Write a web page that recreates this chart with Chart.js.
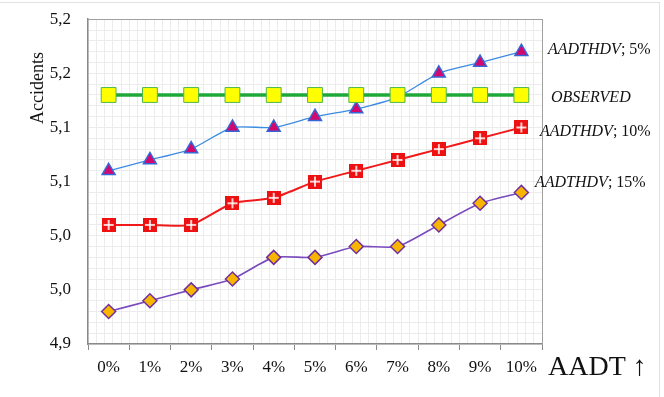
<!DOCTYPE html>
<html>
<head>
<meta charset="utf-8">
<script src="https://cdn.jsdelivr.net/npm/chart.js@4"></script>
<style>
  body { margin: 0; background: #fff; }
  #wrap { position: relative; width: 664px; height: 397px; }
  #frame { position: absolute; left: -1px; top: 2px; width: 660px; height: 400px;
           border-top: 1px solid #e2e2e2; border-right: 1px solid #e2e2e2; pointer-events: none; }
</style>
</head>
<body>
<div id="wrap">
  <canvas id="chart" width="664" height="397"></canvas>
  <div id="frame"></div>
</div>
<script>
// categories and values
const categories = ['0%', '1%', '2%', '3%', '4%', '5%', '6%', '7%', '8%', '9%', '10%'];
const hdv5 = [5.06, 5.07, 5.08, 5.10, 5.10, 5.11, 5.117, 5.128, 5.15, 5.16, 5.17];
const observed = [5.13, 5.13, 5.13, 5.13, 5.13, 5.13, 5.13, 5.13, 5.13, 5.13, 5.13];
const hdv10 = [5.01, 5.01, 5.01, 5.03, 5.035, 5.05, 5.06, 5.07, 5.08, 5.09, 5.10];
const hdv15 = [4.93, 4.94, 4.95, 4.96, 4.98, 4.98, 4.99, 4.99, 5.01, 5.03, 5.04];
const seriesLabels = [['AADTHDV', '; 5%'], ['OBSERVED', ''], ['AADTHDV', '; 10%'], ['AADTHDV', '; 15%']];
const yMin = 4.9, yMax = 5.2, yStep = 0.05;

const serif = "'Liberation Serif', 'Times New Roman', serif";

// red square marker with white cross
function crossSquare() {
    const c = document.createElement('canvas');
    c.width = 14; c.height = 14;
    const g = c.getContext('2d');
    g.fillStyle = '#ee1111';
    g.fillRect(0, 0, 14, 14);
    g.fillStyle = '#ffffff';
    g.fillRect(6.2, 2, 1.6, 10);
    g.fillRect(2, 6.2, 10, 1.6);
    return c;
}

// labels at the right end of each line, axis title, x caption
const endLabels = {
    id: 'endLabels',
    afterDatasetsDraw(chart) {
        const ctx = chart.ctx;
        const place = [[548, -2], [551, 3], [540, 4], [535, -10]];
        ctx.save();
        ctx.fillStyle = '#111';
        ctx.textBaseline = 'middle';
        ctx.textAlign = 'left';
        seriesLabels.forEach((lab, i) => {
            const pts = chart.getDatasetMeta(i).data;
            const y = pts[pts.length - 1].y + place[i][1];
            let x = place[i][0];
            ctx.font = 'italic 16px ' + serif;
            ctx.fillText(lab[0], x, y);
            x += ctx.measureText(lab[0]).width;
            ctx.font = '16px ' + serif;
            ctx.fillText(lab[1], x, y);
        });
        ctx.font = '28px ' + serif;
        ctx.fillText('AADT \u2191', 548, 368);

        ctx.translate(38, 88);
        ctx.rotate(-Math.PI / 2);
        ctx.textAlign = 'center';
        ctx.font = '18px ' + serif;
        ctx.fillText('Accidents', 0, 0);
        ctx.restore();
    }
};

new Chart(document.getElementById('chart'), {
    type: 'line',
    data: {
        labels: categories,
        datasets: [
            {
                label: 'AADTHDV; 5%',
                data: hdv5,
                borderColor: '#3b8be3',
                borderWidth: 1.3,
                pointStyle: 'triangle',
                pointRadius: 7.5,
                pointBackgroundColor: '#d4076f',
                pointBorderColor: '#3566d6',
                pointBorderWidth: 1.5,
                tension: 0.2,
                order: 1
            },
            {
                label: 'OBSERVED',
                data: observed,
                borderColor: '#1fa83a',
                borderWidth: 3.5,
                pointStyle: 'rect',
                pointRadius: 10.5,
                pointBackgroundColor: '#ffff00',
                pointBorderColor: '#4cb84c',
                pointBorderWidth: 1,
                order: 0
            },
            {
                label: 'AADTHDV; 10%',
                data: hdv10,
                borderColor: '#f01a1a',
                borderWidth: 2,
                pointStyle: crossSquare(),
                tension: 0.2,
                order: 2
            },
            {
                label: 'AADTHDV; 15%',
                data: hdv15,
                borderColor: '#7a4cbd',
                borderWidth: 1.6,
                pointStyle: 'rectRot',
                pointRadius: 7,
                pointBackgroundColor: '#f7b500',
                pointBorderColor: '#70309f',
                pointBorderWidth: 1.5,
                tension: 0.2,
                order: 3
            }
        ]
    },
    options: {
        responsive: false,
        animation: false,
        layout: { padding: { left: 26, right: 122, top: 13, bottom: 0 } },
        plugins: { legend: { display: false }, tooltip: { enabled: false } },
        scales: {
            x: {
                offset: true,
                grid: { display: true, drawOnChartArea: false, offset: true, tickLength: 6, color: '#8a8a8a' },
                border: { color: '#8a8a8a', width: 1.5 },
                ticks: { color: '#111', padding: 7, font: { family: serif, size: 17 } },
                afterFit: s => { s.height = 53; }
            },
            y: {
                min: yMin,
                max: yMax,
                grid: { display: false },
                border: { color: '#8a8a8a', width: 1.5 },
                ticks: {
                    stepSize: yStep,
                    color: '#111',
                    padding: 9,
                    font: { family: serif, size: 17 },
                    callback: v => (Math.round(Math.round(v * 100) / 10) / 10).toFixed(1).replace('.', ',')
                },
                afterFit: s => { s.width = 62; }
            },
            // fine grid and the top/right frame of the plot
            xGrid: {
                type: 'linear',
                position: 'top',
                min: 0,
                max: 55,
                grid: { color: '#ececec', drawTicks: false },
                border: { color: '#a0a0a0', width: 1 },
                ticks: { display: false, stepSize: 1, maxTicksLimit: 100 },
                afterFit: s => { s.height = 0; }
            },
            yGrid: {
                type: 'linear',
                position: 'right',
                min: yMin,
                max: yMax,
                grid: { color: '#ececec', drawTicks: false },
                border: { color: '#a0a0a0', width: 1 },
                ticks: { display: false, stepSize: 0.01, maxTicksLimit: 100 },
                afterFit: s => { s.width = 0; }
            }
        }
    },
    plugins: [endLabels]
});
</script>
</body>
</html>
